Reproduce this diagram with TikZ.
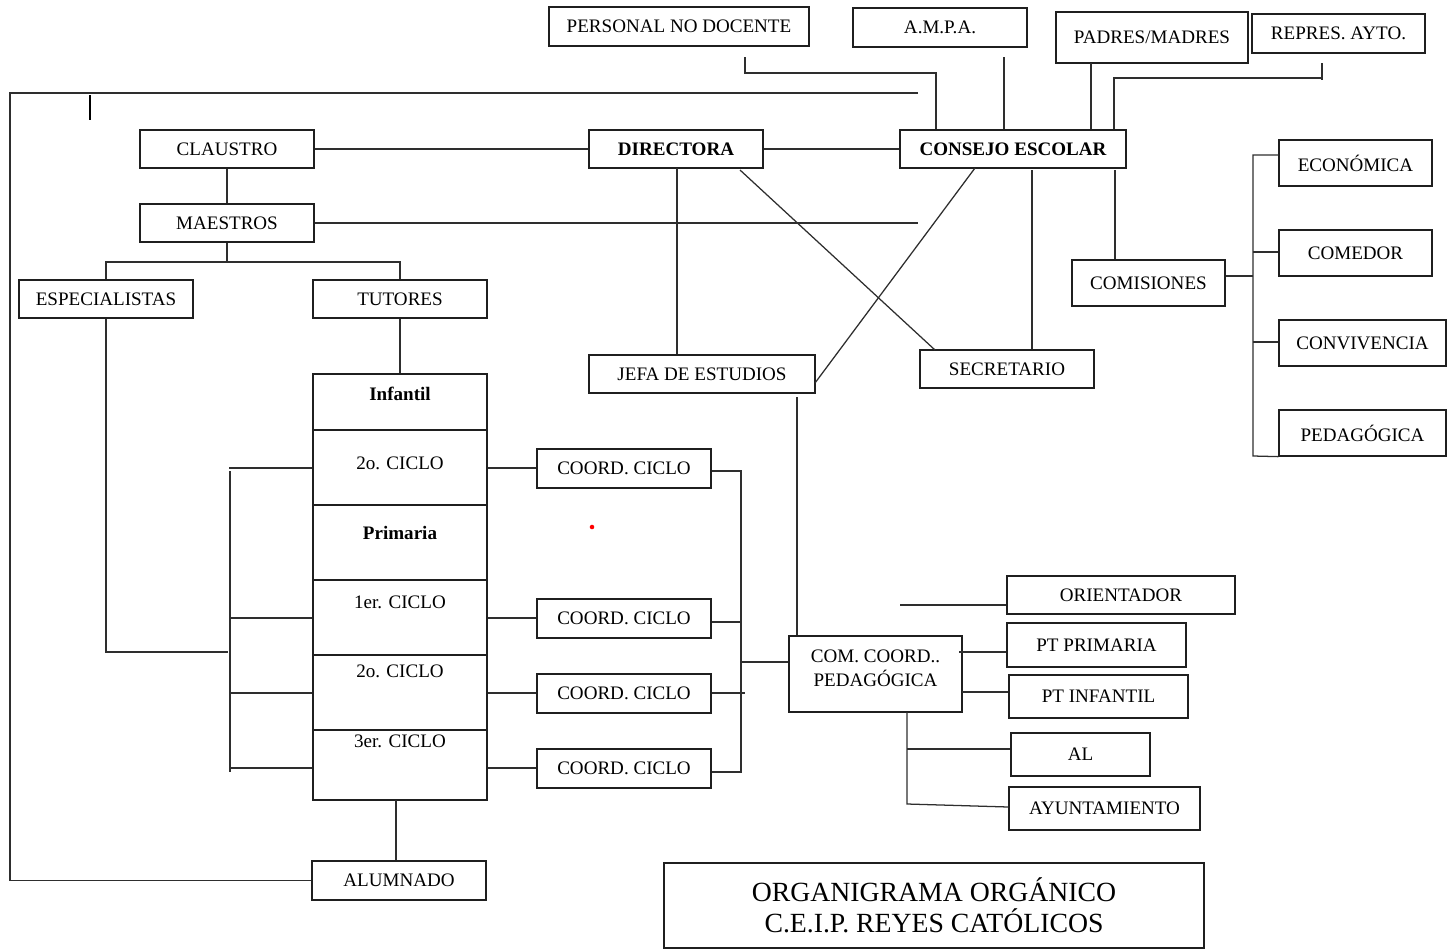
\documentclass[tikz,border=0pt]{standalone}
\usepackage{fontspec}
\setmainfont{Liberation Serif}
\begin{document}
\begin{tikzpicture}[x=0.75pt,y=-0.75pt, line width=0.95pt, color=black!82,
  bx/.style 2 args={draw=black!88, text=black, line width=0.95pt, minimum width=#1, minimum height=#2, inner sep=0pt, font=\fontsize{14.3}{17}\selectfont, align=center},
  bbx/.style 2 args={bx={#1}{#2}, font=\fontsize{14.3}{17}\selectfont\bfseries},
  lbl/.style={inner sep=0pt, text=black, font=\fontsize{14.3}{17}\selectfont},
  blbl/.style={inner sep=0pt, text=black, font=\fontsize{14.3}{17}\selectfont\bfseries}]
\useasboundingbox (0,0) rectangle (1450,950);

% top row
\node[bx={195pt}{29.25pt}] (pnd) at (679,26.5) {PERSONAL NO DOCENTE};
\node[bx={130.5pt}{29.25pt}] (ampa) at (940,27.5) {A.M.P.A.};
\node[bx={144pt}{38.25pt}] (padres) at (1152,37.5) {PADRES/MADRES};
\node[bx={129.75pt}{29.25pt}] (repres) at (1338.5,33.5) {REPRES. AYTO.};

% main row
\node[bx={130.5pt}{28.5pt}] (claustro) at (227,149) {CLAUSTRO};
\node[bbx={130.5pt}{28.5pt}] (directora) at (676,149) {DIRECTORA};
\node[bbx={169.5pt}{28.5pt}] (consejo) at (1013,149) {CONSEJO ESCOLAR};
\node[bx={130.5pt}{28.5pt}] (maestros) at (227,223) {MAESTROS};
\node[bx={130.5pt}{28.5pt}] (espec) at (106,299) {ESPECIALISTAS};
\node[bx={130.5pt}{28.5pt}] (tutores) at (400,299) {TUTORES};
\node[bx={169.5pt}{28.5pt}] (jefa) at (702,374) {JEFA DE ESTUDIOS};
\node[bx={130.5pt}{28.5pt}] (secretario) at (1007,369) {SECRETARIO};

% comisiones
\node[bx={114.75pt}{34.5pt}] (comisiones) at (1148.5,283) {COMISIONES};
\node[bx={114.75pt}{34.5pt}] (economica) at (1355.5,163) {ECONÓMICA};
\node[bx={114.75pt}{34.5pt}] (comedor) at (1355.5,253) {COMEDOR};
\node[bx={125.25pt}{34.5pt}] (convivencia) at (1362.5,343) {CONVIVENCIA};
\node[bx={125.25pt}{34.5pt}] (pedagogica) at (1362.5,433) {PEDAGÓGICA};

% column of cells
\node[bx={130.5pt}{42pt}] (c1) at (400,402) {};
\node[bx={130.5pt}{56.25pt}] (c2) at (400,467.5) {};
\node[bx={130.5pt}{56.25pt}] (c3) at (400,542.5) {};
\node[bx={130.5pt}{56.25pt}] (c4) at (400,617.5) {};
\node[bx={130.5pt}{56.25pt}] (c5) at (400,692.5) {};
\node[bx={130.5pt}{52.5pt}] (c6) at (400,765) {};
\node[blbl] (l1) at (400,394) {Infantil};
\node[lbl] (l2) at (400,463) {2o. CICLO};
\node[blbl] (l3) at (400,533) {Primaria};
\node[lbl] (l4) at (400,602) {1er. CICLO};
\node[lbl] (l5) at (400,671) {2o. CICLO};
\node[lbl] (l6) at (400,741) {3er. CICLO};

% coord ciclo
\node[bx={130.5pt}{29.25pt}] (coord1) at (624,468.5) {COORD. CICLO};
\node[bx={130.5pt}{29.25pt}] (coord2) at (624,618.5) {COORD. CICLO};
\node[bx={130.5pt}{29.25pt}] (coord3) at (624,693.5) {COORD. CICLO};
\node[bx={130.5pt}{29.25pt}] (coord4) at (624,768.5) {COORD. CICLO};

% com coord pedagogica
\node[bx={129.75pt}{57pt}] (comcoord) at (875.5,674) {};
\node[lbl, align=center, font=\fontsize{14.3}{18}\selectfont] (comtxt) at (875.5,668) {COM. COORD..\\PEDAGÓGICA};
\node[bx={171pt}{28.5pt}] (orientador) at (1121,595) {ORIENTADOR};
\node[bx={134.25pt}{33pt}] (ptprim) at (1096.5,645) {PT PRIMARIA};
\node[bx={134.25pt}{32.25pt}] (ptinf) at (1098.5,696.5) {PT INFANTIL};
\node[bx={104.25pt}{32.25pt}] (al) at (1080.5,754.5) {AL};
\node[bx={143.25pt}{32.25pt}] (ayunt) at (1104.5,808.5) {AYUNTAMIENTO};

\node[bx={130.5pt}{29.25pt}] (alumnado) at (399,880.5) {ALUMNADO};

\node[bx={405pt}{63.75pt}, font=\fontsize{20.8}{23.5}\selectfont] (title) at (934,905.5) {ORGANIGRAMA ORGÁNICO\\C.E.I.P. REYES CATÓLICOS};

% ---- connectors ----
\coordinate (tl1) at (918,93);
\coordinate (tl0) at (10,93);
\draw (tl1) -- (tl0) |- (alumnado.west);
\coordinate (tk1) at (90,95);
\coordinate (tk2) at (90,120);
\draw[line width=1.6pt, draw=black] (tk1) -- (tk2);

\coordinate (pn1) at (745,57);
\coordinate (pn2) at (936,73);
\draw (pn1) |- (pn2) -- (pn2 |- consejo.north);
\coordinate (am1) at (1004,57);
\draw (am1) -- (am1 |- consejo.north);
\coordinate (pm1) at (1091,63);
\draw (pm1) -- (pm1 |- consejo.north);
\coordinate (rp1) at (1322,63);
\coordinate (rp2) at (1322,80);
\coordinate (rp3) at (1114,78);
\draw (rp1) -- (rp2);
\draw (rp3 -| rp1) -- (rp3) -- (rp3 |- consejo.north);

\draw (claustro.east) -- (directora.west);
\draw (directora.east) -- (consejo.west);
\draw (claustro.south) -- (maestros.north);
\coordinate (ma1) at (918,223);
\draw (maestros.east) -- (ma1);
\coordinate (mb) at (227,262);
\draw (maestros.south) -- (mb);
\draw (espec.north) |- (tutores.north |- mb) -- (tutores.north);
\coordinate (es1) at (228,652);
\draw (espec.south) |- (es1);
\draw (tutores.south) -- (c1.north);

% left bracket
\coordinate (lb1) at (230,471);
\coordinate (lb2) at (230,772);
\draw (lb1) -- (lb2);
\coordinate (lt1) at (229,468);
\coordinate (lt2) at (229,618);
\coordinate (lt3) at (229,693);
\coordinate (lt4) at (229,768);
\draw (lt1) -- (lt1 -| c2.west);
\draw (lt2) -- (lt2 -| c4.west);
\draw (lt3) -- (lt3 -| c5.west);
\draw (lt4) -- (lt4 -| c6.west);

% cells to coord
\draw (c2.east |- lt1) -- (coord1.west |- lt1);
\draw (c4.east |- lt2) -- (coord2.west |- lt2);
\draw (c5.east |- lt3) -- (coord3.west |- lt3);
\draw (c6.east |- lt4) -- (coord4.west |- lt4);

% right bracket
\coordinate (rb1) at (741,471);
\coordinate (rb2) at (741,772);
\coordinate (rb4) at (745,693);
\draw (coord1.east |- rb1) -- (rb1) -- (rb2) -- (coord4.east |- rb2);
\draw (coord2.east |- 0,622) -- (rb1 |- 0,622);
\draw (coord3.east |- rb4) -- (rb4);
\coordinate (rb3) at (741,662);
\draw (rb3) -- (rb3 -| comcoord.west);

\coordinate (je1) at (797,397);
\draw (je1) -- (je1 |- comcoord.north);
\coordinate (dj) at (677,168);
\draw (dj) -- (dj |- jefa.north);

% diagonals
\coordinate (d1) at (740,170);
\coordinate (d2) at (935,350);
\draw (d1) -- (d2);
\coordinate (d3) at (975,168);
\coordinate (d4) at (815,383);
\draw (d3) -- (d4);

\coordinate (cs) at (1032,170);
\draw (cs) -- (cs |- secretario.north);
\coordinate (cc) at (1115,170);
\draw (cc) -- (cc |- comisiones.north);

% comisiones bracket
\coordinate (kb1) at (1253,155);
\coordinate (kb2) at (1253,456);
\draw (comisiones.east |- 0,276) -- (kb1 |- 0,276);
\draw (kb1 -| economica.west) -- (kb1) -- (kb2) -- (pedagogica.south west);
\draw (kb1 |- 0,252) -- (comedor.west |- 0,252);
\draw (kb1 |- 0,342) -- (convivencia.west |- 0,342);

% com coord pedagogica
\coordinate (or1) at (900,605);
\draw (or1) -- (or1 -| orientador.west);
\coordinate (pp) at (959,652);
\draw (pp) -- (pp -| ptprim.west);
\coordinate (pi) at (962,692);
\draw (pi) -- (pi -| ptinf.west);
\coordinate (cb) at (907,712);
\coordinate (cb2) at (907,804);
\coordinate (al1) at (907,749);
\draw (cb) -- (cb2) -- (ayunt.west |- 0,807);
\draw (al1) -- (al1 -| al.west);

\coordinate (cal) at (396,800);
\draw (cal) -- (cal |- alumnado.north);

\fill[red] (592,527) circle (1.7pt);
\end{tikzpicture}
\end{document}
